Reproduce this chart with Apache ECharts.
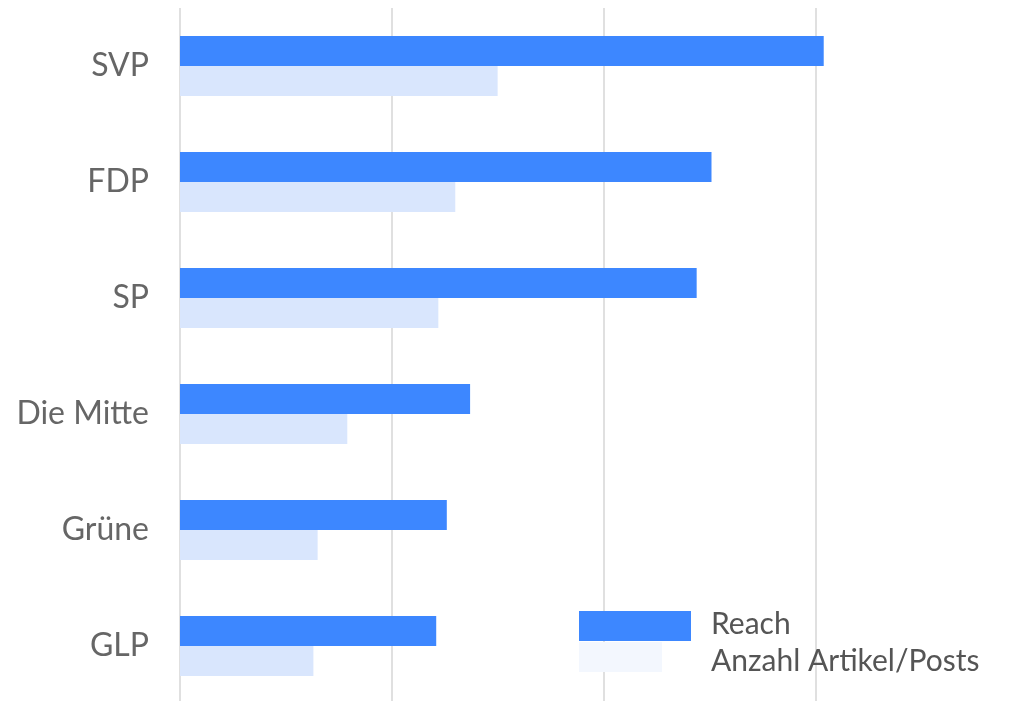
<!DOCTYPE html>
<html>
<head>
<meta charset="utf-8">
<script src="https://cdn.jsdelivr.net/npm/echarts@6/dist/echarts.min.js"></script>
<style>
html,body{margin:0;padding:0;background:#fff;overflow:hidden;}
#chart{width:1015px;height:701px;}
</style>
</head>
<body>
<div id="chart"></div>
<script>
var categories = ['SVP', 'FDP', 'SP', 'Die Mitte', 'Grüne', 'GLP'];
var reach = [304, 251, 244, 137, 126, 121];
var anzahl = [150, 130, 122, 79, 65, 63];
var seriesNames = ['Reach', 'Anzahl Artikel/Posts'];

var FONT = 'Lato';
var chart = echarts.init(document.getElementById('chart'));
chart.setOption({
  animation: false,
  backgroundColor: '#ffffff',
  grid: { left: 180, top: 8, width: 847, height: 696, containLabel: false, outerBoundsMode: 'none' },
  legend: [
    {
      orient: 'vertical', left: 579, top: 607, padding: 0,
      itemWidth: 127, itemHeight: 34, itemGap: 0,
      data: [{ name: seriesNames[0], icon: 'path://M0 4H112V34H0Z M0 0 M127 34', itemStyle: { color: '#3d87ff' } }],
      textStyle: { fontFamily: FONT, fontSize: 30, color: '#555555' }
    },
    {
      orient: 'vertical', left: 579, top: 642, padding: 0,
      itemWidth: 127, itemHeight: 38, itemGap: 0,
      data: [{ name: seriesNames[1], icon: 'path://M0 0H83V30H0Z M127 38', itemStyle: { color: '#f3f7fe' } }],
      textStyle: { fontFamily: FONT, fontSize: 30, color: '#555555' }
    }
  ],
  xAxis: {
    type: 'value', min: 0, max: 400, interval: 100,
    axisLabel: { show: false }, axisTick: { show: false }, axisLine: { show: false },
    splitLine: { show: true, lineStyle: { color: '#e0e0e0', width: 2 } }
  },
  yAxis: {
    type: 'category', data: categories, inverse: true,
    axisLine: { show: false }, axisTick: { show: false },
    axisLabel: { fontFamily: FONT, fontSize: 32, color: '#666666', margin: 31 }
  },
  series: [
    { name: seriesNames[0], type: 'bar', data: reach, barWidth: 30, barGap: '0%', itemStyle: { color: '#3d87ff' } },
    { name: seriesNames[1], type: 'bar', data: anzahl, barWidth: 30, barGap: '0%', itemStyle: { color: '#d9e6fd' } }
  ]
});
</script>
</body>
</html>
